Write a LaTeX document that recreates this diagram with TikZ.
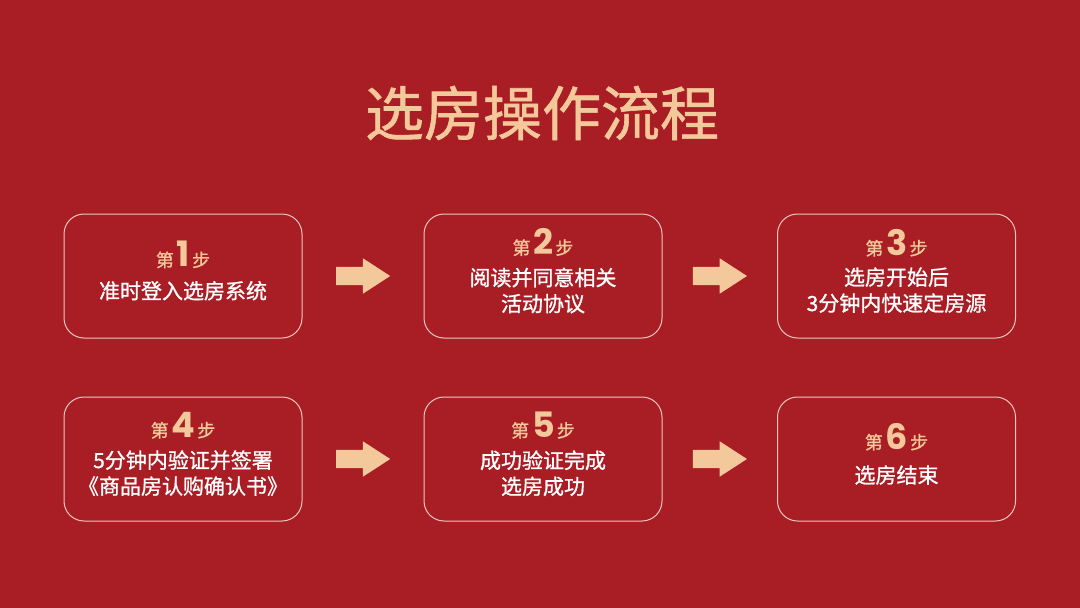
\documentclass[tikz,border=0pt]{standalone}
\usepackage{fontspec}
\setmainfont{Noto Sans CJK SC}[AutoFakeBold=1]
\newfontfamily\numfont{Poppins}
\usetikzlibrary{shapes.arrows,calc}
\definecolor{bgred}{RGB}{169,29,36}
\definecolor{peach}{RGB}{243,200,155}
\definecolor{rim}{RGB}{236,200,190}
\newcommand{\stepno}[1]{{\color{peach}\fontsize{18}{18}\selectfont\bfseries 第\hspace{3pt}{\numfont\bfseries\fontsize{35}{35}\selectfont #1}\hspace{2pt}步}}
\tikzset{
  stepbox/.style={draw=rim, line width=1pt, rounded corners=20pt, minimum width=238pt,
    minimum height=124pt, align=center, text=white, font=\fontsize{21}{26}\selectfont\bfseries,
    execute at end node={\rule[-12pt]{0pt}{0pt}}},
  blockarrow/.style={single arrow, fill=peach, draw=none, inner xsep=0pt, inner ysep=9pt,
    minimum height=54pt, single arrow head extend=8.5pt, single arrow tip angle=66, anchor=tail}
}
\begin{document}
\begin{tikzpicture}[x=1pt,y=-1pt]
    \fill[bgred] (0,0) rectangle (1080,608);
    \useasboundingbox (0,0) rectangle (1080,608);
    % title
    \node[text=peach, font=\fontsize{59}{59}\selectfont\bfseries] (title) at (542,113) {选房操作流程};
    % first row
    \node[stepbox] (b1) at (183,276) {\stepno{1}\\[6pt] 准时登入选房系统};
    \node[stepbox] (b2) at (543,276) {\stepno{2}\\[5pt] 阅读并同意相关\\ 活动协议};
    \node[stepbox] (b3) at (896.5,276) {\stepno{3}\\[4pt] 选房开始后\\ 3分钟内快速定房源};
    % second row
    \node[stepbox] (b4) at (183,459) {\stepno{4}\\[5pt] 5分钟内验证并签署\\ 《商品房认购确认书》};
    \node[stepbox] (b5) at (543,459) {\stepno{5}\\[5pt] 成功验证完成\\ 选房成功};
    \node[stepbox] (b6) at (896.5,459) {\stepno{6}\\[8pt] 选房结束};
    % arrows between boxes
    \node[blockarrow] (a12) at ($(b1.east)!0.5!(b2.west)+(-27,0)$) {};
    \node[blockarrow] (a23) at ($(b2.east)!0.5!(b3.west)+(-27,0)$) {};
    \node[blockarrow] (a45) at ($(b4.east)!0.5!(b5.west)+(-27,0)$) {};
    \node[blockarrow] (a56) at ($(b5.east)!0.5!(b6.west)+(-27,0)$) {};
\end{tikzpicture}
\end{document}
